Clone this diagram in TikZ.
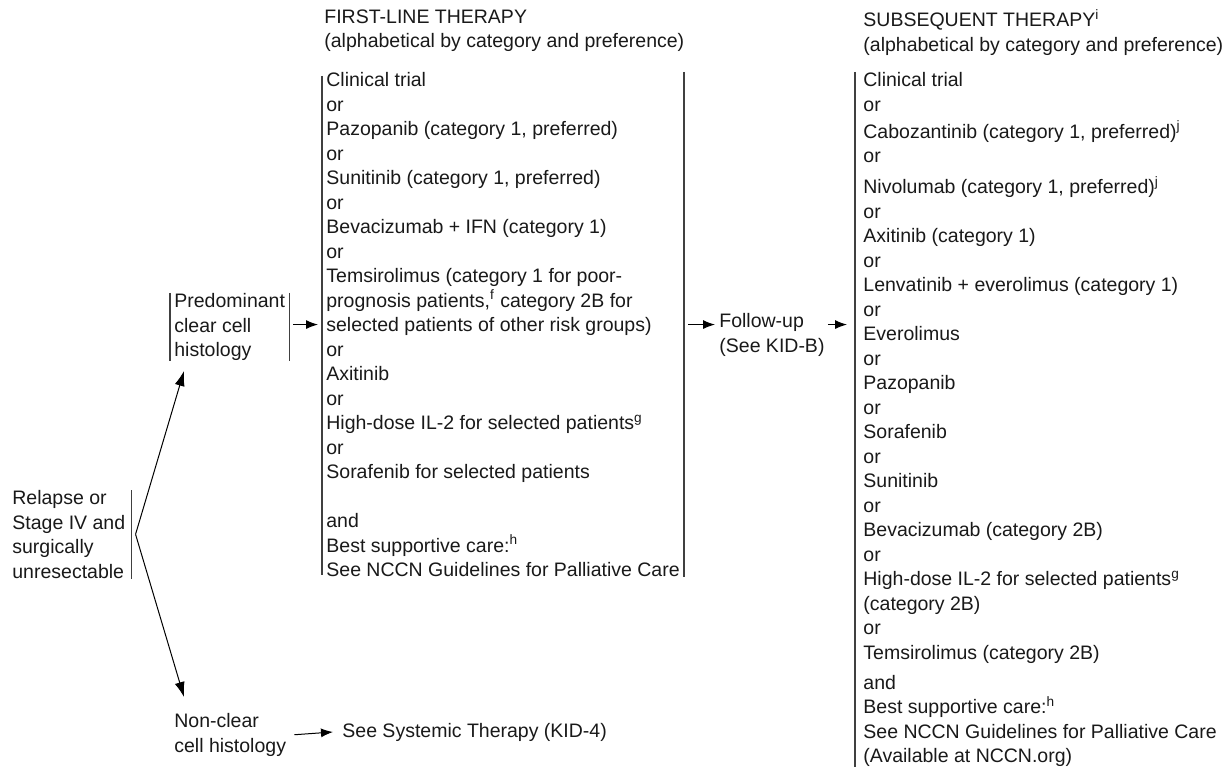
\documentclass[tikz,border=0pt]{standalone}
\usepackage{fontspec}
\setmainfont{Liberation Sans}
\usetikzlibrary{arrows.meta}

\begin{document}
\begin{tikzpicture}[x=0.5pt, y=-0.5pt,
    every node/.style={font=\fontsize{9.75}{12.25}\selectfont, text=black!90},
    txt/.style={align=left, anchor=north west, inner xsep=2pt, inner ysep=0pt},
    bar/.style={line width=0.7pt, black!75},
    flow/.style={->, line width=0.5pt, >={Latex[length=6pt,width=4.5pt]}},
    fork/.style={->, line width=0.5pt, >={Latex[length=7.5pt,width=5pt]}},
  ]
  \useasboundingbox (0,0) rectangle (1230,769);

  % column headings
  \node[txt, inner xsep=0pt] (hfl) at (324,9) {FIRST-LINE THERAPY\\(alphabetical by category and preference)};
  \node[txt, inner xsep=0pt] (hsub) at (863,9) {SUBSEQUENT THERAPY\textsuperscript{i}\\(alphabetical by category and preference)};

  % histology split
  \node[txt, inner xsep=3pt] (relapse) at (6,490) {Relapse or\\Stage IV and\\surgically\\unresectable};
  \node[txt] (pcc) at (170,293) {Predominant\\clear cell\\histology};
  \node[txt] (ncc) at (170,713) {Non-clear\\cell histology};
  \node[anchor=west, inner sep=0pt] (sys) at (342,732) {See Systemic Therapy (KID-4)};

  % first-line options
  \node[txt] (fl) at (322,72) {Clinical trial\\or\\Pazopanib (category 1, preferred)\\or\\Sunitinib (category 1, preferred)\\or\\Bevacizumab + IFN (category 1)\\or\\Temsirolimus (category 1 for poor-\\prognosis patients,\textsuperscript{f} category 2B for\\selected patients of other risk groups)\\or\\Axitinib\\or\\High-dose IL-2 for selected patients\textsuperscript{g}\\or\\Sorafenib for selected patients\\[12.25pt]and\\Best supportive care:\textsuperscript{h}\\See NCCN Guidelines for Palliative Care};

  \node[txt, inner xsep=0pt] (fu) at (719,313) {Follow-up\\(See KID-B)};

  % subsequent options
  \node[txt, inner xsep=4pt] (sub) at (855,72) {Clinical trial\\or\\[1.25pt]Cabozantinib (category 1, preferred)\textsuperscript{j}\\or\\[3.25pt]Nivolumab (category 1, preferred)\textsuperscript{j}\\or\\Axitinib (category 1)\\or\\Lenvatinib + everolimus (category 1)\\or\\Everolimus\\or\\Pazopanib\\or\\Sorafenib\\or\\Sunitinib\\or\\Bevacizumab (category 2B)\\or\\High-dose IL-2 for selected patients\textsuperscript{g}\\(category 2B)\\or\\Temsirolimus (category 2B)\\[2.75pt]and\\Best supportive care:\textsuperscript{h}\\See NCCN Guidelines for Palliative Care\\(Available at NCCN.org)};

  % brackets
  \draw[bar] (relapse.north east) -- (relapse.south east);
  \draw[bar] (pcc.north west) -- (pcc.south west) (pcc.north east) -- (pcc.south east);
  \draw[bar] ([yshift=-2pt]fl.north west) -- ([yshift=1pt]fl.south west) (fl.north east) -- (fl.south east);
  \draw[bar] (sub.north west) -- (sub.south west);

  % arrows
  \coordinate (split) at ([xshift=2pt]relapse.east);
  \draw[fork] (split) -- ([xshift=7pt,yshift=-5pt]pcc.south west);
  \draw[fork] (split) -- ([xshift=7pt,yshift=8pt]ncc.north west);
  \draw[flow] ([xshift=2pt]pcc.east |- fl.west) -- ([xshift=-2pt]fl.west);
  \draw[flow] ([xshift=2pt]fl.east) -- ([xshift=-2pt]fl.east -| fu.west);
  \draw[flow] ([xshift=1.5pt]fu.east |- fl.east) -- ([xshift=-4pt]sub.west |- fl.east);
  \draw[flow] ([xshift=2pt]ncc.east) -- ([xshift=-4.5pt]sys.west);
\end{tikzpicture}
\end{document}
